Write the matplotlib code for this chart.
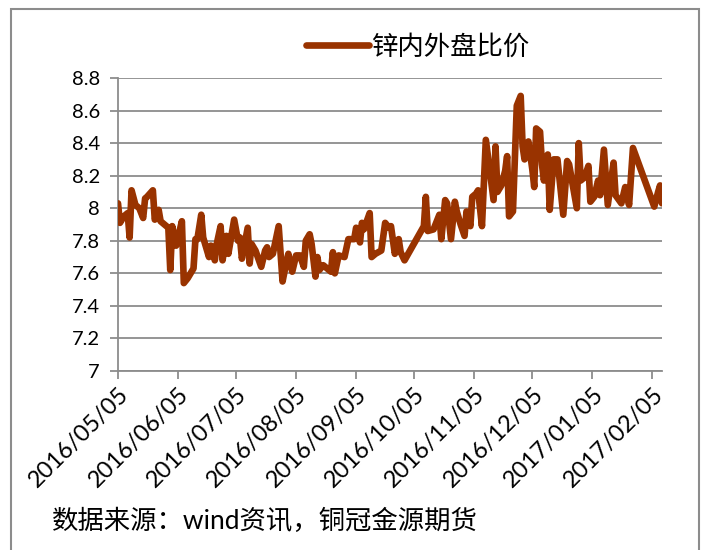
import matplotlib
matplotlib.use("Agg")
import matplotlib.pyplot as plt
import matplotlib.dates as mdates
from matplotlib.patches import Rectangle
import pandas as pd

# Zinc SHFE/LME price ratio, daily observations
dates = [
    "2016-05-05", "2016-05-06", "2016-05-08", "2016-05-10", "2016-05-11", "2016-05-12",
    "2016-05-14", "2016-05-16", "2016-05-18", "2016-05-19", "2016-05-20", "2016-05-23",
    "2016-05-24", "2016-05-26", "2016-05-27", "2016-05-29", "2016-05-31", "2016-06-01",
    "2016-06-02", "2016-06-04", "2016-06-07", "2016-06-08", "2016-06-10", "2016-06-13",
    "2016-06-14", "2016-06-15", "2016-06-17", "2016-06-18", "2016-06-21", "2016-06-22",
    "2016-06-24", "2016-06-25", "2016-06-27", "2016-06-28", "2016-06-30", "2016-07-01",
    "2016-07-04", "2016-07-06", "2016-07-07", "2016-07-08", "2016-07-11", "2016-07-12",
    "2016-07-13", "2016-07-15", "2016-07-18", "2016-07-20", "2016-07-21", "2016-07-22",
    "2016-07-24", "2016-07-27", "2016-07-29", "2016-07-31", "2016-08-01", "2016-08-03",
    "2016-08-05", "2016-08-07", "2016-08-09", "2016-08-10", "2016-08-12", "2016-08-13",
    "2016-08-15", "2016-08-16", "2016-08-17", "2016-08-19", "2016-08-21", "2016-08-23",
    "2016-08-24", "2016-08-25", "2016-08-27", "2016-08-30", "2016-09-01", "2016-09-04",
    "2016-09-05", "2016-09-06", "2016-09-07", "2016-09-08", "2016-09-09", "2016-09-12",
    "2016-09-13", "2016-09-15", "2016-09-18", "2016-09-20", "2016-09-22", "2016-09-23",
    "2016-09-25", "2016-09-27", "2016-09-28", "2016-09-30", "2016-10-10", "2016-10-11",
    "2016-10-12", "2016-10-15", "2016-10-18", "2016-10-19", "2016-10-21", "2016-10-22",
    "2016-10-24", "2016-10-26", "2016-10-27", "2016-10-29", "2016-10-31", "2016-11-01",
    "2016-11-03", "2016-11-04", "2016-11-06", "2016-11-07", "2016-11-09", "2016-11-11",
    "2016-11-15", "2016-11-16", "2016-11-17", "2016-11-19", "2016-11-21", "2016-11-22",
    "2016-11-23", "2016-11-25", "2016-11-27", "2016-11-29", "2016-11-30", "2016-12-01",
    "2016-12-03", "2016-12-05", "2016-12-06", "2016-12-07", "2016-12-09", "2016-12-10",
    "2016-12-11", "2016-12-13", "2016-12-14", "2016-12-16", "2016-12-18", "2016-12-21",
    "2016-12-23", "2016-12-24", "2016-12-28", "2016-12-29", "2016-12-30", "2017-01-01",
    "2017-01-03", "2017-01-04", "2017-01-06", "2017-01-08", "2017-01-09", "2017-01-11",
    "2017-01-13", "2017-01-16", "2017-01-17", "2017-01-20", "2017-01-22", "2017-01-24",
    "2017-01-26", "2017-02-06", "2017-02-08", "2017-02-09", "2017-02-10",
]
ratio = [
    8.03, 7.91, 7.95, 7.97, 7.82, 8.11,
    8.02, 8.00, 7.94, 8.06, 8.07, 8.11,
    7.93, 7.99, 7.92, 7.90, 7.88, 7.62,
    7.89, 7.77, 7.92, 7.54, 7.57, 7.63,
    7.81, 7.81, 7.96, 7.82, 7.70, 7.77,
    7.68, 7.78, 7.89, 7.68, 7.83, 7.72,
    7.93, 7.80, 7.82, 7.69, 7.88, 7.66,
    7.78, 7.74, 7.64, 7.74, 7.76, 7.70,
    7.72, 7.89, 7.55, 7.67, 7.72, 7.61,
    7.71, 7.71, 7.64, 7.80, 7.84, 7.78,
    7.58, 7.70, 7.62, 7.65, 7.63, 7.61,
    7.73, 7.60, 7.71, 7.70, 7.81, 7.81,
    7.88, 7.83, 7.79, 7.91, 7.87, 7.97,
    7.70, 7.72, 7.74, 7.91, 7.88, 7.89,
    7.72, 7.81, 7.73, 7.68, 7.89, 8.07,
    7.86, 7.87, 7.96, 7.81, 8.05, 8.03,
    7.81, 8.04, 7.98, 7.90, 7.83, 7.98,
    7.89, 8.07, 8.09, 8.11, 7.89, 8.42,
    8.05, 8.38, 8.10, 8.14, 8.23, 8.32,
    7.95, 7.98, 8.63, 8.69, 8.38, 8.30,
    8.41, 8.24, 8.13, 8.49, 8.47, 8.27,
    8.17, 8.33, 7.99, 8.30, 8.30, 7.96,
    8.29, 8.27, 8.00, 8.40, 8.17, 8.19,
    8.26, 8.04, 8.07, 8.17, 8.08, 8.36,
    8.02, 8.28, 8.08, 8.03, 8.13, 8.02,
    8.37, 8.01, 8.10, 8.14, 8.03,
]
tick_dates = [
    "2016-05-05", "2016-06-05", "2016-07-05", "2016-08-05", "2016-09-05",
    "2016-10-05", "2016-11-05", "2016-12-05", "2017-01-05", "2017-02-05",
]
y_ticks = [7.0, 7.2, 7.4, 7.6, 7.8, 8.0, 8.2, 8.4, 8.6, 8.8]
y_labels = ["7", "7.2", "7.4", "7.6", "7.8", "8", "8.2", "8.4", "8.6", "8.8"]
series_name = "锌内外盘比价"
source_note = "数据来源：wind资讯，铜冠金源期货"

plt.rcParams["font.family"] = ["Lato", "Noto Sans CJK SC", "DejaVu Sans"]

W, H = 716, 550
fig = plt.figure(figsize=(W / 100, H / 100), dpi=100)
fig.patch.set_facecolor("white")

left, right, top, bottom = 118, 662, 78, 371
ax = fig.add_axes([left / W, 1 - bottom / H, (right - left) / W, (bottom - top) / H])

grey = "#8c8c8c"
line_color = "#993300"

x = pd.to_datetime(dates)
ax.plot(x, ratio, color=line_color, lw=4.8, solid_joinstyle="round",
        solid_capstyle="round", label=series_name, zorder=3)

ax.set_xlim(pd.Timestamp(dates[0]), pd.Timestamp(dates[-1]))
ax.set_ylim(y_ticks[0], y_ticks[-1])

ax.set_yticks(y_ticks)
ax.set_yticklabels(y_labels, fontsize=14.5)
ax.set_xticks(pd.to_datetime(tick_dates))
ax.xaxis.set_major_formatter(mdates.DateFormatter("%Y/%m/%d"))
for lbl in ax.get_xticklabels():
    lbl.set_rotation(45)
    lbl.set_ha("right")
    lbl.set_va("top")
    lbl.set_rotation_mode("anchor")
    lbl.set_fontsize(17)

ax.grid(axis="y", color=grey, lw=1.3, zorder=1)
ax.set_axisbelow(True)
for side in ("top", "right"):
    ax.spines[side].set_visible(False)
for side in ("left", "bottom"):
    ax.spines[side].set_color(grey)
    ax.spines[side].set_linewidth(1.3)
ax.tick_params(axis="both", direction="out", length=6, width=1.3, color=grey,
               labelcolor="black")
ax.tick_params(axis="y", pad=7)
ax.tick_params(axis="x", pad=3)

leg = ax.legend(loc="center", bbox_to_anchor=(418 / W, 1 - 47 / H),
                bbox_transform=fig.transFigure, frameon=False, fontsize=19,
                handlelength=2.4, handletextpad=0.1)

fig.text(52 / W, 1 - 521 / H, source_note, fontsize=19, va="center", ha="left")

fig.patches.append(Rectangle((11 / W, -0.05), (699 - 11) / W, 1.05 - 9 / H,
                             transform=fig.transFigure, fill=False,
                             edgecolor=grey, lw=1.5))

fig.savefig("out.png", dpi=100)
